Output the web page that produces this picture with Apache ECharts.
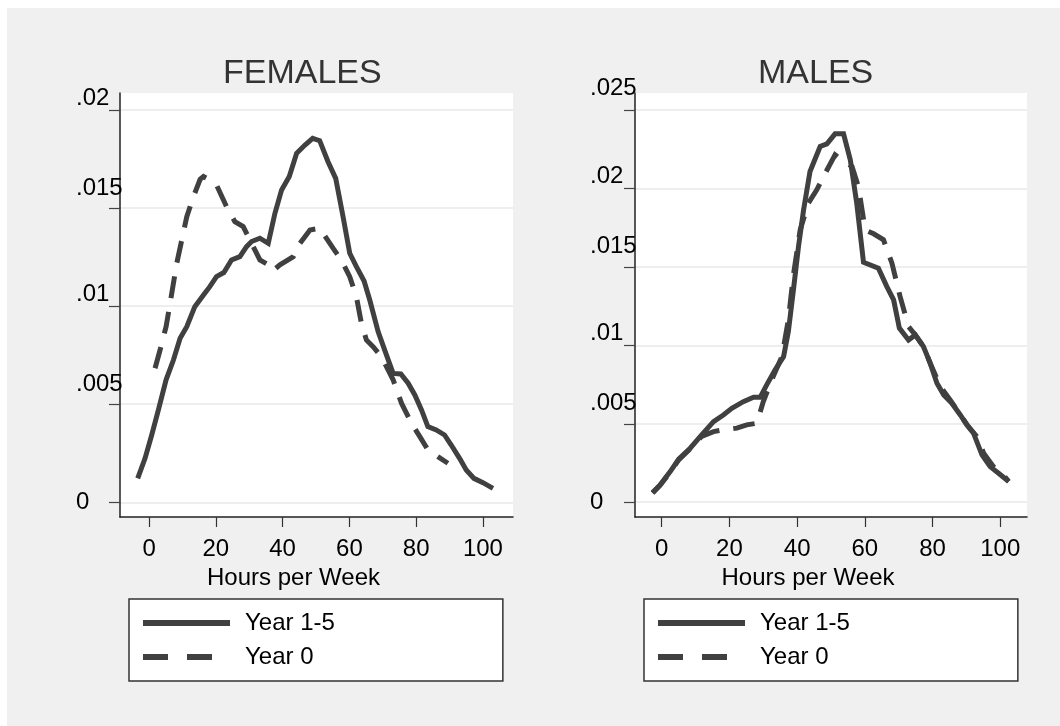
<!DOCTYPE html>
<html>
<head>
<meta charset="utf-8">
<script src="https://cdn.jsdelivr.net/npm/echarts@6/dist/echarts.min.js"></script>
<style>
html,body{margin:0;padding:0;background:#fff;}
#bg{position:absolute;left:7px;top:8px;right:0;bottom:0;background:#f0f0f0;}
#chart{position:absolute;left:0;top:0;width:1060px;height:726px;}
</style>
</head>
<body>
<div id="bg"></div>
<div id="chart"></div>
<script>
// ---- data ----
const panelTitles = ['FEMALES', 'MALES'];
const seriesNames = ['Year 1-5', 'Year 0'];
const xAxisName = 'Hours per Week';
const xTicks = [0, 20, 40, 60, 80, 100];
const yTicksFemales = [0, 0.005, 0.01, 0.015, 0.02];
const yTicksMales = [0, 0.005, 0.01, 0.015, 0.02, 0.025];

const femalesYear15 = [
  [-3.4,0.00122],[-1.2,0.00224],[0.8,0.00343],[2.8,0.00471],[5.1,0.00624],[7.3,0.00725],
  [9.3,0.00836],[11.3,0.00895],[13.7,0.00997],[16.3,0.01057],[18.2,0.01099],[20.2,0.01150],
  [22.4,0.01171],[24.7,0.01235],[27.2,0.01252],[29.2,0.01303],[30.7,0.01329],[33.2,0.01346],
  [35.7,0.01320],[37.7,0.01473],[39.7,0.01592],[42.0,0.01660],[44.2,0.01779],[46.7,0.01821],
  [49.0,0.01855],[51.1,0.01843],[53.6,0.01736],[55.9,0.01651],[58.1,0.01456],[60.1,0.01269],
  [62.1,0.01201],[64.4,0.01128],[66.1,0.01031],[68.6,0.00870],[70.9,0.00760],[73.1,0.00657],
  [75.4,0.00654],[77.6,0.00607],[79.6,0.00547],[81.6,0.00471],[83.5,0.00386],[86.0,0.00369],
  [88.5,0.00343],[90.5,0.00292],[93.0,0.00224],[95.0,0.00165],[97.3,0.00122],[100.0,0.00100],
  [103.0,0.00071]
];
const femalesYear0 = [
  [1.8,0.00683],[3.3,0.00776],[5.1,0.00895],[6.3,0.01014],[8.3,0.01218],[9.8,0.01337],
  [11.3,0.01456],[13.3,0.01558],[15.3,0.01646],[16.3,0.01660],[18.2,0.01643],[20.2,0.01617],
  [23.2,0.01507],[25.7,0.01430],[28.2,0.01405],[30.2,0.01337],[33.2,0.01235],[35.7,0.01210],
  [37.0,0.01179],[39.2,0.01210],[43.2,0.01252],[45.2,0.01320],[48.2,0.01388],[51.1,0.01397],
  [53.1,0.01346],[55.1,0.01295],[57.6,0.01235],[60.1,0.01150],[62.1,0.01048],[63.6,0.00912],
  [65.1,0.00827],[67.1,0.00793],[69.6,0.00742],[73.1,0.00624],[75.6,0.00505],[78.6,0.00403],
  [81.1,0.00335],[83.5,0.00267],[86.5,0.00233],[89.5,0.00199]
];
const malesYear15 = [
  [-2.7,0.00062],[-0.5,0.00110],[2.5,0.00195],[5.0,0.00274],[8.4,0.00344],[11.8,0.00429],
  [15.3,0.00514],[18.2,0.00556],[20.7,0.00599],[24.1,0.00641],[27.1,0.00669],[29.1,0.00669],
  [31.0,0.00748],[33.5,0.00843],[36.0,0.00928],[37.4,0.01087],[38.9,0.01353],[40.4,0.01629],
  [41.9,0.01863],[43.8,0.02107],[46.8,0.02266],[48.8,0.02283],[51.2,0.02347],[53.7,0.02347],
  [55.7,0.02181],[57.6,0.01905],[59.6,0.01529],[64.0,0.01491],[66.5,0.01374],[68.5,0.01289],
  [70.2,0.01109],[72.9,0.01034],[74.9,0.01066],[77.3,0.00992],[79.3,0.00886],[81.3,0.00758],
  [83.3,0.00684],[85.7,0.00631],[88.2,0.00556],[90.1,0.00493],[92.1,0.00440],[94.6,0.00302],
  [97.0,0.00227],[99.5,0.00185],[102.5,0.00132]
];
const malesYear0 = [
  [-2.7,0.00058],[-0.5,0.00108],[2.5,0.00192],[5.0,0.00270],[8.4,0.00340],[11.8,0.00420],
  [15.3,0.00450],[18.2,0.00461],[22.2,0.00472],[25.1,0.00493],[28.1,0.00503],[30.0,0.00641],
  [32.5,0.00780],[35.5,0.00928],[37.4,0.01162],[38.9,0.01449],[40.9,0.01735],[43.3,0.01905],
  [45.8,0.01990],[48.3,0.02096],[51.2,0.02213],[53.7,0.02171],[56.2,0.02139],[58.1,0.02011],
  [60.1,0.01735],[62.6,0.01710],[65.5,0.01672],[68.0,0.01523],[70.4,0.01311],[72.9,0.01119],
  [74.9,0.01066],[77.3,0.00992],[79.3,0.00886],[82.3,0.00737],[85.2,0.00652],[88.2,0.00556],
  [90.6,0.00482],[93.1,0.00418],[95.1,0.00312],[98.0,0.00227],[100.5,0.00185],[102.5,0.00132]
];

// ---- styling / layout ----
const FONT = '"Liberation Sans", Arial, sans-serif';
const LINE = '#404040';
const DASH = [22, 14];

function fmt(v) {
  if (v === 0) return '0';
  return String(+v.toFixed(3)).replace(/^0/, '');
}
// label vertical offsets (px upward) per tick index, mimicking the original
const femOff = [0, 20, 12, 20, 11];
const malOff = [0, 20, 12, 20, 11.5, 21];
function richFor(offs) {
  const r = {};
  offs.forEach((o, i) => {
    r['o' + i] = { fontSize: 24, fontFamily: FONT, color: '#000', padding: [0, 0, Math.round(o * 2), 0] };
  });
  return r;
}
function yAxis(gi, min, max, ticks, offs, margin) {
  return {
    type: 'value', gridIndex: gi, min: min, max: max,
    axisLine: { show: true, onZero: false, lineStyle: { color: '#222', width: 1.5 } },
    axisTick: { show: true, inside: false, length: 11, customValues: ticks, lineStyle: { color: '#444', width: 1.2 } },
    axisLabel: {
      customValues: ticks, align: 'left', margin: margin,
      formatter: function (v) {
        let idx = ticks.findIndex(t => Math.abs(t - v) < 1e-9);
        if (idx < 0) idx = 0;
        return '{o' + idx + '|' + fmt(v) + '}';
      },
      rich: richFor(offs)
    },
    splitLine: { show: true, lineStyle: { color: '#eeeeee', width: 2 } }
  };
}
function xAxis(gi, min, max) {
  return {
    type: 'value', gridIndex: gi, min: min, max: max,
    name: xAxisName, nameLocation: 'middle', nameGap: 38,
    nameTextStyle: { fontSize: 24, fontFamily: FONT, color: '#000', padding: [0, 46, 0, 0] },
    axisLine: { show: true, onZero: false, lineStyle: { color: '#222', width: 1.5 } },
    axisTick: { show: true, inside: false, length: 10, customValues: xTicks, lineStyle: { color: '#333', width: 1.2 } },
    axisLabel: { customValues: xTicks, margin: 20, fontSize: 24, fontFamily: FONT, color: '#000' },
    splitLine: { show: false }
  };
}
function lineSeries(name, gi, data, dashed) {
  return {
    type: 'line', name: name, xAxisIndex: gi, yAxisIndex: gi, data: data,
    symbol: 'none', showSymbol: false, smooth: false,
    lineStyle: { color: LINE, width: 5, type: dashed ? DASH : 'solid', cap: 'butt', join: 'miter' },
    itemStyle: { color: LINE }
  };
}
function legend(left) {
  return {
    orient: 'vertical', left: left, top: 599,
    data: [
      { name: seriesNames[0] },
      { name: seriesNames[1], lineStyle: { type: [25, 19] } }
    ],
    itemWidth: 87, itemHeight: 24, itemGap: 10,
    padding: [12, 168, 12, 11],
    backgroundColor: '#fff', borderColor: '#333', borderWidth: 1.5, borderRadius: 0,
    lineStyle: { width: 6 },
    itemStyle: { opacity: 0, borderWidth: 0 },
    textStyle: { fontSize: 24, fontFamily: FONT, color: '#000', padding: [0, 0, 0, 10] },
    selectedMode: false
  };
}

const chart = echarts.init(document.getElementById('chart'), null, { renderer: 'canvas' });
chart.setOption({
  animation: false,
  backgroundColor: 'transparent',
  title: [
    { text: panelTitles[0], left: 223, top: 57, padding: 0,
      textStyle: { fontSize: 34, fontWeight: 'normal', fontFamily: FONT, color: '#333' } },
    { text: panelTitles[1], left: 758, top: 57, padding: 0,
      textStyle: { fontSize: 34, fontWeight: 'normal', fontFamily: FONT, color: '#333' } }
  ],
  grid: [
    { left: 120, top: 93, width: 393, height: 424, show: true, backgroundColor: '#fff', borderWidth: 0 },
    { left: 635, top: 93, width: 392, height: 424, show: true, backgroundColor: '#fff', borderWidth: 0 }
  ],
  xAxis: [xAxis(0, -8.7, 109), xAxis(1, -7.9, 107.9)],
  yAxis: [
    yAxis(0, -0.00075, 0.02086, yTicksFemales, femOff, 44),
    yAxis(1, -0.00094, 0.02607, yTicksMales, malOff, 45)
  ],
  legend: [legend(129), legend(644)],
  series: [
    lineSeries(seriesNames[0], 0, femalesYear15, false),
    lineSeries(seriesNames[1], 0, femalesYear0, true),
    lineSeries(seriesNames[0], 1, malesYear15, false),
    lineSeries(seriesNames[1], 1, malesYear0, true)
  ]
});
</script>
</body>
</html>
